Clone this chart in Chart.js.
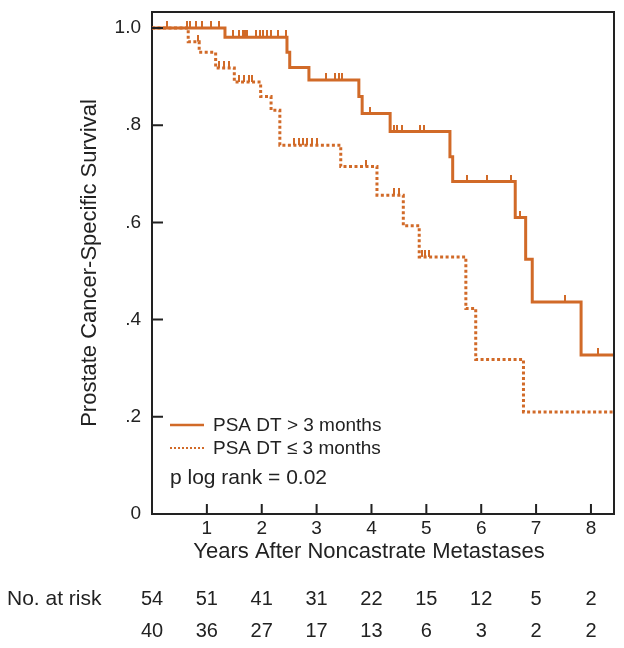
<!DOCTYPE html>
<html><head><meta charset="utf-8">
<script src="https://cdn.jsdelivr.net/npm/chart.js@4.4.1/dist/chart.umd.min.js"></script>
<style>html,body{margin:0;padding:0;background:#fff}#wrap{width:624px;height:648px}</style>
</head><body><div id="wrap"><canvas id="c" width="624" height="648"></canvas></div>
<script>
// ---------- data ----------
const seriesLabels = ['PSA DT > 3 months', 'PSA DT \u2264 3 months'];

// PSA DT > 3 months (solid): event times (years) and survival after each step
const longTimes = [0, 1.33, 2.46, 2.51, 2.86, 3.77, 3.83, 4.34, 5.43, 5.48, 6.62, 6.81, 6.93, 7.82, 8.42];
const longSurv  = [1.0, 0.981, 0.95, 0.919, 0.893, 0.859, 0.824, 0.787, 0.735, 0.684, 0.610, 0.524, 0.436, 0.327, 0.327];
const longCensorTimes = [0.28, 0.63, 0.69, 0.80, 0.92, 1.07, 1.23,
  1.47, 1.59, 1.65, 1.70, 1.74, 1.89, 1.97, 2.03, 2.10, 2.17, 2.29, 2.44,
  3.18, 3.34, 3.40, 3.46, 3.98, 4.41, 4.46, 4.55, 4.88, 4.96,
  5.74, 6.10, 6.54, 6.71, 7.53, 8.12];

// PSA DT <= 3 months (dotted)
const shortTimes = [0, 0.66, 0.86, 1.16, 1.50, 1.98, 2.17, 2.33, 3.44, 4.10, 4.58, 4.87, 5.72, 5.90, 6.77, 8.42];
const shortSurv  = [1.0, 0.972, 0.95, 0.918, 0.889, 0.859, 0.831, 0.759, 0.715, 0.656, 0.593, 0.529, 0.423, 0.318, 0.21, 0.21];
const shortCensorTimes = [0.84, 1.23, 1.32, 1.41, 1.59, 1.68, 1.76, 1.83,
  2.59, 2.67, 2.76, 2.83, 2.92, 3.01, 3.90, 4.41, 4.50, 4.92, 4.98, 5.05];

const xTickValues = [1, 2, 3, 4, 5, 6, 7, 8];
const yTickValues = [0, 0.2, 0.4, 0.6, 0.8, 1.0];
const yTickLabels = ['0', '.2', '.4', '.6', '.8', '1.0'];

const riskTimes = [0, 1, 2, 3, 4, 5, 6, 7, 8];
const riskLong  = [54, 51, 41, 31, 22, 15, 12, 5, 2];
const riskShort = [40, 36, 27, 17, 13, 6, 3, 2, 2];
const riskLabel = 'No. at risk';
const pValueText = 'p log rank = 0.02';
const xTitle = 'Years After Noncastrate Metastases';
const yTitle = 'Prostate Cancer-Specific Survival';

// ---------- styling ----------
const ORANGE = '#D16A28';
const INK = '#222222';
const FONT = '"Liberation Sans", Arial, sans-serif';

function stepPoints(times, surv) { return times.map((t, i) => ({x: t, y: surv[i]})); }
function survAt(times, surv, t) { let s = surv[0]; for (let i = 0; i < times.length; i++) { if (times[i] <= t) s = surv[i]; } return s; }
function censorPoints(ct, times, surv) { return ct.map(t => ({x: t, y: survAt(times, surv, t)})); }
function tickCanvas(color) {
  const c = document.createElement('canvas'); c.width = 2; c.height = 14;
  const g = c.getContext('2d'); g.fillStyle = color; g.fillRect(0, 0, 2, 7); return c;
}
const censorMark = tickCanvas(ORANGE);

const decor = {
  id: 'kmDecor',
  afterDraw(chart) {
    const {ctx, chartArea: a, scales: {x, y}} = chart;
    ctx.save();
    ctx.strokeStyle = INK; ctx.lineWidth = 2;
    ctx.beginPath();
    ctx.moveTo(a.left, a.top); ctx.lineTo(a.right, a.top); ctx.lineTo(a.right, a.bottom);
    ctx.stroke();
    ctx.beginPath();
    x.ticks.forEach(t => { if (t.value <= 0) return; const px = x.getPixelForValue(t.value); ctx.moveTo(px, a.bottom); ctx.lineTo(px, a.bottom - 10); });
    y.ticks.forEach(t => { if (t.value <= 0) return; const py = y.getPixelForValue(t.value); ctx.moveTo(a.left, py); ctx.lineTo(a.left + 11, py); });
    ctx.stroke();

    // x axis title
    ctx.fillStyle = INK; ctx.textBaseline = 'middle'; ctx.textAlign = 'center';
    ctx.font = '22px ' + FONT;
    ctx.fillText(xTitle, 369, 552);

    // legend
    const lx = a.left + 18, rows = [a.bottom - 89, a.bottom - 66];
    ctx.font = '19px ' + FONT; ctx.textAlign = 'left';
    chart.data.datasets.slice(0, 2).forEach((ds, i) => {
      ctx.strokeStyle = ds.borderColor; ctx.lineWidth = i === 0 ? 2.5 : 2;
      ctx.setLineDash(i === 0 ? [] : [2, 2]);
      ctx.beginPath(); ctx.moveTo(lx, rows[i]); ctx.lineTo(lx + 34, rows[i]); ctx.stroke();
      ctx.setLineDash([]);
      ctx.fillStyle = INK; ctx.fillText(ds.label, lx + 43, rows[i] + 1);
    });
    ctx.font = '21px ' + FONT;
    ctx.fillText(pValueText, lx, a.bottom - 36);

    // numbers at risk
    ctx.font = '21px ' + FONT;
    ctx.fillText(riskLabel, 7, 599);
    ctx.font = '20px ' + FONT;
    ctx.textAlign = 'center';
    riskTimes.forEach((t, i) => {
      const px = x.getPixelForValue(t);
      ctx.fillText(String(riskLong[i]), px, 599);
      ctx.fillText(String(riskShort[i]), px, 631);
    });
    ctx.restore();
  }
};

new Chart(document.getElementById('c'), {
  type: 'line',
  data: {
    datasets: [
      { label: seriesLabels[0], data: stepPoints(longTimes, longSurv), stepped: 'before',
        borderColor: ORANGE, borderWidth: 3, pointRadius: 0, fill: false, borderCapStyle: 'butt' },
      { label: seriesLabels[1], data: stepPoints(shortTimes, shortSurv), stepped: 'before',
        borderColor: ORANGE, borderWidth: 3, borderDash: [3, 2.5], pointRadius: 0, fill: false },
      { label: 'censor-long', data: censorPoints(longCensorTimes, longTimes, longSurv), showLine: false,
        pointStyle: censorMark, pointRadius: 7, borderColor: ORANGE, backgroundColor: ORANGE },
      { label: 'censor-short', data: censorPoints(shortCensorTimes, shortTimes, shortSurv), showLine: false,
        pointStyle: censorMark, pointRadius: 7, borderColor: ORANGE, backgroundColor: ORANGE }
    ]
  },
  options: {
    responsive: false, animation: false, devicePixelRatio: 1,
    layout: { padding: { top: 12, right: 10, left: 0, bottom: 0 } },
    plugins: { legend: { display: false }, tooltip: { enabled: false } },
    scales: {
      x: {
        type: 'linear', min: 0, max: 8.42,
        afterFit(s) { s.height = 134; s.paddingLeft = 0; s.paddingRight = 0; },
        afterBuildTicks(s) { s.ticks = xTickValues.map(v => ({value: v})); },
        grid: { display: false }, border: { display: true, color: INK, width: 2 },
        ticks: { color: INK, font: { size: 19, family: FONT }, padding: -5, maxRotation: 0, autoSkip: false },
        title: { display: false }
      },
      y: {
        type: 'linear', min: 0, max: 1.033,
        afterFit(s) { s.width = 152; s.paddingTop = 0; s.paddingBottom = 0; },
        afterBuildTicks(s) { s.ticks = yTickValues.map(v => ({value: v})); },
        grid: { display: false }, border: { display: true, color: INK, width: 2 },
        ticks: { color: INK, font: { size: 19, family: FONT }, padding: 3, autoSkip: false,
          callback: (v) => { const i = yTickValues.indexOf(v); return i >= 0 ? yTickLabels[i] : ''; } },
        title: { display: true, text: yTitle, color: INK, font: { size: 22, family: FONT }, padding: { top: 77, bottom: 0 } }
      }
    }
  },
  plugins: [decor]
});
</script></body></html>
